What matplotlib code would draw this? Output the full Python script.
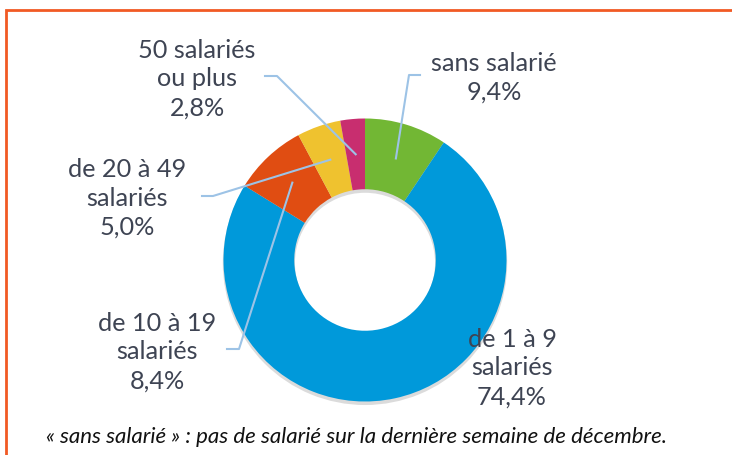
import numpy as np
import matplotlib
matplotlib.use("Agg")
import matplotlib.pyplot as plt
from matplotlib.patches import Rectangle, Wedge
from matplotlib.lines import Line2D

# Data
categories = ["sans salarié", "de 1 à 9\nsalariés", "de 10 à 19\nsalariés",
              "de 20 à 49\nsalariés", "50 salariés\nou plus"]
values = [9.4, 74.4, 8.4, 5.0, 2.8]
value_labels = ["9,4%", "74,4%", "8,4%", "5,0%", "2,8%"]
colors = ["#72B734", "#0099DA", "#E04D12", "#EFC22F", "#C82E6F"]

W, H = 732, 456
fig = plt.figure(figsize=(W / 100, H / 100), dpi=100)
plt.rcParams['font.family'] = ['Lato', 'DejaVu Sans']

def fx(px):
    return px / W

def fy(py):
    return 1 - py / H

# Frame
fig.patches.append(Rectangle((fx(6), fy(470)), fx(740), fy(10.5) - fy(470),
                             transform=fig.transFigure, fill=False,
                             edgecolor="#F15A24", lw=2.0, clip_on=False))

# Donut axes
cx, cy, R = 365, 261, 141.5
ax = fig.add_axes([fx(cx - R), fy(cy + R), fx(2 * R), (2 * R) / H])
ax.axis("off")

wedges, _ = ax.pie(values, colors=colors, startangle=90, counterclock=False,
                   radius=1.0, wedgeprops=dict(width=0.5, edgecolor="none"))
for w in wedges:
    w.set_zorder(2)
ax.set_xlim(-1, 1)
ax.set_ylim(-1, 1)
ax.set_aspect("equal")

# subtle shadow
ax.add_patch(Wedge((0.0, -0.02), 1.005, 0, 360, width=0.51,
                   facecolor="#c4c4c4", edgecolor="none", alpha=0.6, zorder=1,
                   clip_on=False))

txt_color = "#3E4453"
fs = 18.2
# label layout (pixel centres) and leader elbows
label_pos = [(494, 78), (512, 368), (157, 352), (127, 198), (197, 79)]
elbows = [((409, 76), (420, 76)), None, ((239, 350), (227, 350)),
          ((213, 197), (202, 197)), ((277, 77), (265, 77))]

for i, (w, cat) in enumerate(zip(wedges, categories)):
    x, y = label_pos[i]
    fig.text(fx(x), fy(y), cat + "\n" + value_labels[i], ha="center", va="center",
             fontsize=fs, color=txt_color, linespacing=1.3, zorder=5)
    if elbows[i] is not None:
        ang = np.deg2rad((w.theta1 + w.theta2) / 2)
        sx, sy = 0.75 * np.cos(ang), 0.75 * np.sin(ang)
        disp = ax.transData.transform((sx, sy))
        fpt = fig.transFigure.inverted().transform(disp)
        (ex, ey), (tx, ty) = elbows[i]
        fig.lines.append(Line2D([fpt[0], fx(ex), fx(tx)], [fpt[1], fy(ey), fy(ty)],
                                transform=fig.transFigure, color="#9DC3E6", lw=1.5,
                                zorder=4))

fig.text(fx(357), fy(437),
         "« sans salarié » : pas de salarié sur la dernière semaine de décembre.",
         ha="center", va="center", fontsize=16, style="italic", color="#111111")

fig.savefig("out.png", dpi=100)
